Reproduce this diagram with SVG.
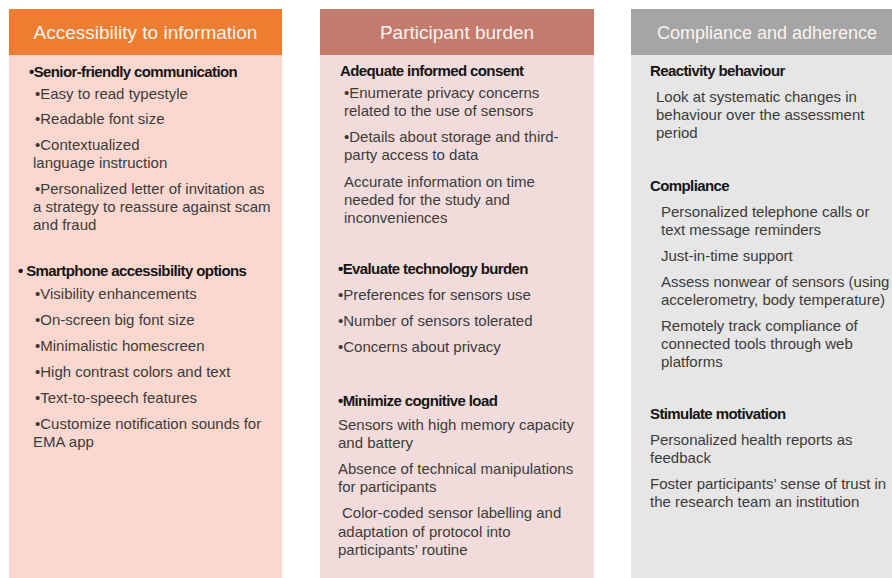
<svg xmlns="http://www.w3.org/2000/svg" width="892" height="578" viewBox="0 0 892 578">
<style>
text{font-family:"Liberation Sans",Arial,sans-serif;font-size:15px;fill:#3b3b3b}
.h{font-size:19px;fill:#fbf3ee;text-anchor:middle}
.b{font-weight:bold;fill:#151515;letter-spacing:-0.6px}
</style>
<rect width="892" height="578" fill="#ffffff"/>
<g id="col1">
<rect x="9" y="55" width="273" height="523" fill="#fbd8cf"/>
<rect x="9" y="9" width="273" height="46" fill="#ed7d31"/>
<text class="h" x="145.5" y="39">Accessibility to information</text>
<text class="b" x="29" y="77">•Senior-friendly communication</text>
<text x="35" y="99">•Easy to read typestyle</text>
<text x="35" y="124">•Readable font size</text>
<text x="35" y="150">•Contextualized</text>
<text x="33" y="168">language instruction</text>
<text x="35" y="194">•Personalized letter of invitation as</text>
<text x="33" y="212">a strategy to reassure against scam</text>
<text x="33" y="230">and fraud</text>
<text class="b" x="18" y="276">• Smartphone accessibility options</text>
<text x="35" y="299">•Visibility enhancements</text>
<text x="35" y="325">•On-screen big font size</text>
<text x="35" y="351">•Minimalistic homescreen</text>
<text x="35" y="377">•High contrast colors and text</text>
<text x="35" y="403">•Text-to-speech features</text>
<text x="35" y="429">•Customize notification sounds for</text>
<text x="33" y="447">EMA app</text>
</g>
<g id="col2">
<rect x="320" y="55" width="274" height="523" fill="#f2dcdb"/>
<rect x="320" y="9" width="274" height="46" fill="#c27b6d"/>
<text class="h" x="457" y="39">Participant burden</text>
<text class="b" x="340" y="76">Adequate informed consent</text>
<text x="344" y="98">•Enumerate privacy concerns</text>
<text x="344" y="116">related to the use of sensors</text>
<text x="344" y="142">•Details about storage and third-</text>
<text x="344" y="160">party access to data</text>
<text x="344" y="187">Accurate information on time</text>
<text x="344" y="205">needed for the study and</text>
<text x="344" y="223">inconveniences</text>
<text class="b" x="338" y="274">•Evaluate technology burden</text>
<text x="338" y="300">•Preferences for sensors use</text>
<text x="338" y="326">•Number of sensors tolerated</text>
<text x="338" y="352">•Concerns about privacy</text>
<text class="b" x="338" y="406">•Minimize cognitive load</text>
<text x="338" y="430">Sensors with high memory capacity</text>
<text x="338" y="448">and battery</text>
<text x="338" y="474">Absence of technical manipulations</text>
<text x="338" y="492">for participants</text>
<text x="342" y="518">Color-coded sensor labelling and</text>
<text x="338" y="537">adaptation of protocol into</text>
<text x="338" y="555">participants’ routine</text>
</g>
<g id="col3">
<rect x="631" y="55" width="261" height="523" fill="#e6e6e6"/>
<rect x="631" y="9" width="261" height="46" fill="#a5a5a5"/>
<text class="h" x="767" y="39" style="font-size:18px">Compliance and adherence</text>
<text class="b" x="650" y="76">Reactivity behaviour</text>
<text x="656" y="102">Look at systematic changes in</text>
<text x="656" y="120">behaviour over the assessment</text>
<text x="656" y="138">period</text>
<text class="b" x="650" y="191">Compliance</text>
<text x="661" y="217">Personalized telephone calls or</text>
<text x="661" y="235">text message reminders</text>
<text x="661" y="261">Just-in-time support</text>
<text x="661" y="287">Assess nonwear of sensors (using</text>
<text x="661" y="305">accelerometry, body temperature)</text>
<text x="661" y="331">Remotely track compliance of</text>
<text x="661" y="349">connected tools through web</text>
<text x="661" y="367">platforms</text>
<text class="b" x="650" y="419">Stimulate motivation</text>
<text x="650" y="445">Personalized health reports as</text>
<text x="650" y="463">feedback</text>
<text x="650" y="489">Foster participants’ sense of trust in</text>
<text x="650" y="507">the research team an institution</text>
</g>
<g id="connectors"/>
</svg>
